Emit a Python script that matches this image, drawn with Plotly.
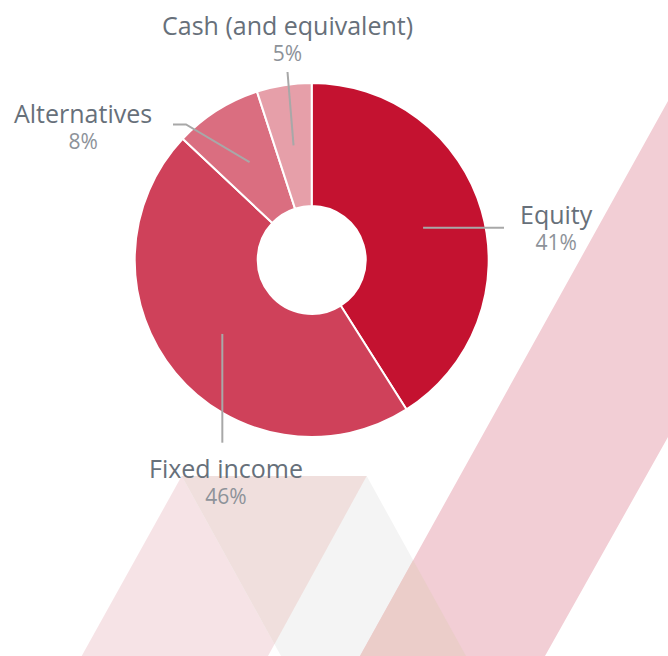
import math
import plotly.graph_objects as go

# Asset allocation data
categories = ["Equity", "Fixed income", "Alternatives", "Cash (and equivalent)"]
shares = [41, 46, 8, 5]
slice_colors = ["#c41230", "#cf415a", "#da6e80", "#e69fa9"]

W, H = 668, 656
CX, CY, R = 311.7, 260.0, 177.0   # donut centre / outer radius in pixels
HOLE = 0.305


def px(x):
    return x / W


def py(y):
    return 1 - y / H


fig = go.Figure()

fig.add_trace(go.Pie(
    labels=categories,
    values=shares,
    sort=False,
    direction="clockwise",
    rotation=0,
    hole=HOLE,
    marker=dict(colors=slice_colors, line=dict(color="white", width=2)),
    textinfo="none",
    hoverinfo="label+percent",
    showlegend=False,
    domain=dict(x=[px(CX - R), px(CX + R)], y=[py(CY + R), py(CY - R)]),
))

shapes = []


def poly(points, color):
    path = "M " + " L ".join(f"{px(x)},{py(y)}" for x, y in points) + " Z"
    shapes.append(dict(type="path", path=path, xref="paper", yref="paper",
                       fillcolor=color, line=dict(width=0), layer="below"))


def intersect(p1, p2, p3, p4):
    (x1, y1), (x2, y2), (x3, y3), (x4, y4) = p1, p2, p3, p4
    d = (x1 - x2) * (y3 - y4) - (y1 - y2) * (x3 - x4)
    t = ((x1 - x3) * (y3 - y4) - (y1 - y3) * (x3 - x4)) / d
    return (x1 + t * (x2 - x1), y1 + t * (y2 - y1))


# Decorative background geometry
tl, tr = (181.7, 476.0), (366.7, 476.0)
pink_bl, pink_br = (81.7, 656.0), (268.0, 656.0)
grey_bl, grey_br = (281.0, 656.0), (466.0, 656.0)
band_top_l, band_bot_l = (668.0, 101.0), (360.0, 656.0)
band_top_r, band_bot_r = (668.0, 437.0), (545.0, 656.0)

poly([tl, tr, pink_br, pink_bl], "#f6e3e6")
poly([tl, tr, grey_br, grey_bl], "#f4f4f4")
poly([tl, tr, intersect(tl, grey_bl, tr, pink_br)], "#f0dfdd")
poly([band_top_l, (W, 0), band_top_r, band_bot_r, band_bot_l], "#f2ced5")
poly([intersect(band_top_l, band_bot_l, tr, grey_br), band_bot_l, grey_br], "#ebcdc9")

# Leader lines from each slice's mid-angle
LEADER_R = 116.0
total = sum(shares)
cum = 0.0
inner = []
for v in shares:
    mid = (cum + v / 2) / total * 2 * math.pi
    inner.append((CX + LEADER_R * math.sin(mid), CY - LEADER_R * math.cos(mid)))
    cum += v

eq, fi, al, ca = inner
leaders = [
    [eq, (504.0, eq[1])],
    [fi, (fi[0], 442.7)],
    [al, (186.0, 124.5), (173.0, 124.5)],
    [ca, (287.5, 72.0)],
]
for pts in leaders:
    path = "M " + " L ".join(f"{px(x)},{py(y)}" for x, y in pts)
    shapes.append(dict(type="path", path=path, xref="paper", yref="paper",
                       line=dict(color="#a8a8a8", width=2), layer="above"))

# Label block centres (name line + percent line)
label_pos = [(556, 227), (225.5, 480), (83, 125), (287, 37)]
annotations = []
for name, v, (lx, ly) in zip(categories, shares, label_pos):
    text = (f"<span style='font-size:25px;color:#67707a'>{name}</span><br>"
            f"<span style='font-size:21px;color:#8d9299'>{v}%</span>")
    annotations.append(dict(
        x=px(lx), y=py(ly), xref="paper", yref="paper",
        text=text, showarrow=False, xanchor="center", yanchor="middle",
        align="center",
        font=dict(family="Open Sans", size=20, color="#67707a")))

fig.update_layout(
    width=W, height=H,
    margin=dict(l=0, r=0, t=0, b=0),
    paper_bgcolor="white",
    plot_bgcolor="white",
    shapes=shapes,
    annotations=annotations,
    showlegend=False,
)

fig.write_html("out.html")
